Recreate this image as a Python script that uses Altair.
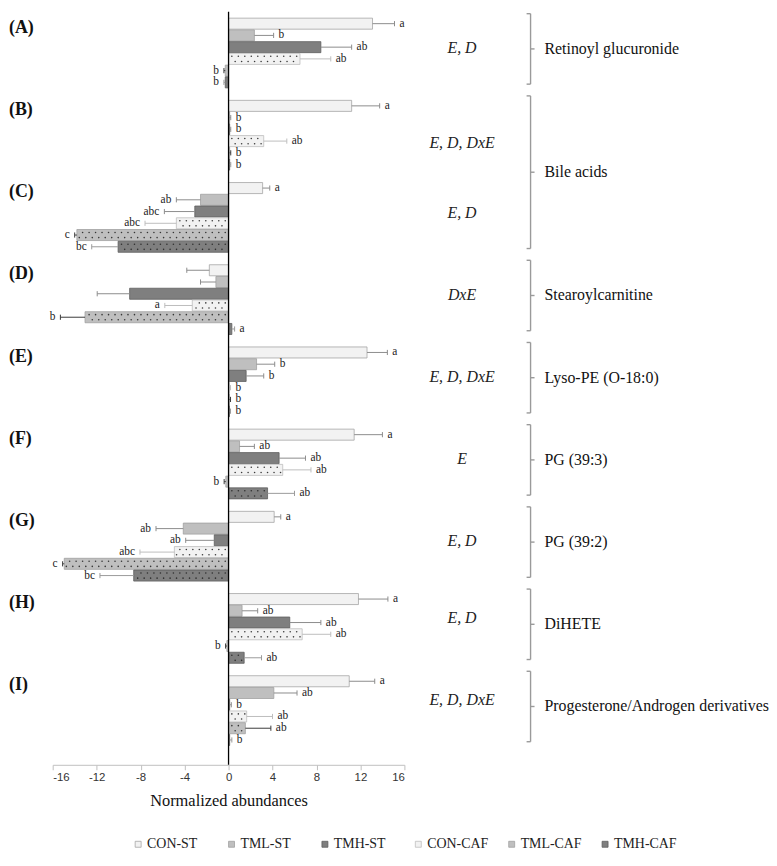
import altair as alt
import pandas as pd

panels = ["(A)", "(B)", "(C)", "(D)", "(E)", "(F)", "(G)", "(H)", "(I)"]
series = ["CON-ST", "TML-ST", "TMH-ST", "CON-CAF", "TML-CAF", "TMH-CAF"]
fills = ["#f2f2f2", "#bfbfbf", "#7f7f7f", "#f2f2f2", "#bfbfbf", "#7f7f7f"]
strokes = ["#a6a6a6", "#a0a0a0", "#5f5f5f", "#bdbdbd", "#a0a0a0", "#5f5f5f"]
err_colors = ["#8c8c8c", "#8c8c8c", "#8c8c8c", "#bdbdbd", "#3a3a3a", "#9a9a9a"]
patterned = [False, False, False, True, True, True]

means = {
    "CON-ST":  [13.1, 11.2, 3.1, -1.75, 12.6, 11.43, 4.15, 11.82, 10.98],
    "TML-ST":  [2.35, 0.1, -2.55, -1.15, 2.55, 1.0, -4.12, 1.23, 4.12],
    "TMH-ST":  [8.4, 0.1, -3.07, -9.0, 1.6, 4.6, -1.3, 5.57, 0.1],
    "CON-CAF": [6.5, 3.2, -4.75, -3.3, 0.08, 4.93, -4.93, 6.7, 1.65],
    "TML-CAF": [-0.3, 0.1, -13.8, -13.06, 0.08, -0.25, -14.95, -0.15, 1.53],
    "TMH-CAF": [-0.3, 0.1, -10.05, 0.3, 0.08, 3.55, -8.63, 1.42, 0.1],
}
ses = {
    "CON-ST":  [2.0, 2.55, 0.65, 2.05, 1.85, 2.57, 0.6, 2.68, 2.32],
    "TML-ST":  [1.75, 0.1, 2.2, 1.4, 1.65, 1.35, 2.48, 1.42, 2.11],
    "TMH-ST":  [2.8, 0.1, 2.77, 2.95, 1.6, 2.4, 2.6, 2.83, 0.15],
    "CON-CAF": [2.8, 2.1, 2.85, 2.5, 0.1, 2.57, 3.13, 2.6, 2.35],
    "TML-CAF": [0.12, 0.1, 0.2, 2.24, 0.1, 0.15, 0.15, 0.12, 2.32],
    "TMH-CAF": [0.12, 0.1, 2.4, 0.25, 0.1, 2.45, 3.07, 1.58, 0.2],
}
letters = {
    "CON-ST":  ["a", "a", "a", "", "a", "a", "a", "a", "a"],
    "TML-ST":  ["b", "b", "ab", "", "b", "ab", "ab", "ab", "ab"],
    "TMH-ST":  ["ab", "b", "abc", "", "b", "ab", "ab", "ab", "b"],
    "CON-CAF": ["ab", "ab", "abc", "a", "b", "ab", "abc", "ab", "ab"],
    "TML-CAF": ["b", "b", "c", "b", "b", "b", "c", "b", "ab"],
    "TMH-CAF": ["b", "b", "bc", "a", "b", "ab", "bc", "ab", "b"],
}
significance = ["E, D", "E, D, DxE", "E, D", "DxE", "E, D, DxE", "E", "E, D", "E, D", "E, D, DxE"]
sig_nudge = [0, 1.1, 0, 0, 0, 0, 0, -0.5, -0.5]
metabolite_names = ["Retinoyl glucuronide", "Bile acids", "Stearoylcarnitine", "Lyso-PE (O-18:0)",
                    "PG (39:3)", "PG (39:2)", "DiHETE", "Progesterone/Androgen derivatives"]
metabolite_first = [0, 1, 3, 4, 5, 6, 7, 8]
metabolite_last = [0, 2, 3, 4, 5, 6, 7, 8]

SERIF = "Times New Roman, Liberation Serif, serif"
SANS = "Liberation Sans, Arial, sans-serif"
SLOTS = 7  # 6 bars + 1 gap per panel

rows = []
dots = []
for k, p in enumerate(panels):
    for j, s in enumerate(series):
        c = SLOTS * k + j + 1.5
        v = means[s][k]
        e = ses[s][k]
        sgn = 1 if v >= 0 else -1
        rows.append(dict(panel=p, series=s, value=v, zero=0.0, y0=c - 0.47, y1=c + 0.47,
                         cy=c, cy0=c - 0.22, cy1=c + 0.22, end=v + sgn * e,
                         ecolor=err_colors[j], letter=letters[s][k], sgn=sgn))
        if patterned[j] and abs(v) >= 0.6:
            step = 0.59
            for off, start in [(-0.22, 0.3), (0.22, 0.6)]:
                xx = start
                while xx < abs(v) - 0.15:
                    dots.append(dict(x=sgn * xx, y=c + off))
                    xx += step

df = pd.DataFrame(rows)
dots_df = pd.DataFrame(dots)

xscale = alt.Scale(domain=[-16, 16], nice=False, zero=False)
yscale = alt.Scale(domain=[0.485, 64.615], nice=False, zero=False, reverse=True)
xaxis = alt.Axis(values=[-16, -12, -8, -4, 0, 4, 8, 12, 16], labelExpr="'' + datum.value",
                 labelFont=SANS, labelFontSize=11.5, labelColor="#333333",
                 domainColor="#bfbfbf", tickColor="#bfbfbf", tickSize=5, grid=False,
                 labelPadding=2, title="Normalized abundances", titleFont=SERIF,
                 titleFontSize=16.5, titleFontWeight="normal", titleColor="#111", titlePadding=9)


def X(f):
    return alt.X(f, scale=xscale, axis=xaxis)


def Y(f):
    return alt.Y(f, scale=yscale, axis=None)


bars = alt.Chart(df).mark_bar(strokeWidth=0.8).encode(
    x=X("value:Q"), x2="zero:Q", y=Y("y0:Q"), y2="y1:Q",
    color=alt.Color("series:N", scale=alt.Scale(domain=series, range=fills),
                    legend=alt.Legend(orient="none", legendX=79, legendY=831, direction="horizontal",
                                      columns=6, gridAlign="all", title=None, symbolType="square",
                                      symbolSize=36, symbolStrokeColor="#8c8c8c", symbolStrokeWidth=0.8,
                                      labelFont=SERIF, labelFontSize=14, labelColor="#222",
                                      labelOffset=2, columnPadding=14, padding=0)),
    stroke=alt.Stroke("series:N", scale=alt.Scale(domain=series, range=strokes), legend=None),
)

dot_layer = alt.Chart(dots_df).mark_circle(size=2.5, opacity=0.9, color="#262626").encode(
    x=X("x:Q"), y=Y("y:Q"))

err = alt.Chart(df).mark_rule(strokeWidth=1).encode(
    x=X("value:Q"), x2="end:Q", y=Y("cy:Q"), color=alt.Color("ecolor:N", scale=None, legend=None))
caps = alt.Chart(df).mark_rule(strokeWidth=1).encode(
    x=X("end:Q"), y=Y("cy0:Q"), y2="cy1:Q", color=alt.Color("ecolor:N", scale=None, legend=None))

zero_line = alt.Chart(pd.DataFrame({"z": [0.0]})).mark_rule(color="#000", strokeWidth=1.3).encode(
    x=X("z:Q"))

lab = df[df.letter != ""]
let_pos = alt.Chart(lab[lab.sgn > 0]).mark_text(align="left", baseline="middle", dx=5,
                                               font=SERIF, fontSize=11.5, color="#222").encode(
    x=X("end:Q"), y=Y("cy:Q"), text="letter:N")
let_neg = alt.Chart(lab[lab.sgn < 0]).mark_text(align="right", baseline="middle", dx=-5,
                                               font=SERIF, fontSize=11.5, color="#222").encode(
    x=X("end:Q"), y=Y("cy:Q"), text="letter:N")

pan_df = pd.DataFrame({"panel": panels,
                       "y": [SLOTS * k + 1.85 for k in range(len(panels))],
                       "sig": significance,
                       "ys": [SLOTS * k + 4.0 - 0.4 + sig_nudge[k] for k in range(len(panels))]})
pan_labels = alt.Chart(pan_df).mark_text(align="left", baseline="middle", font=SERIF,
                                         fontSize=18, fontWeight="bold", color="#111").encode(
    x=alt.value(-44), y=Y("y:Q"), text="panel:N")
sig_labels = alt.Chart(pan_df).mark_text(align="center", baseline="middle", font=SERIF,
                                         fontSize=16, fontStyle="italic", color="#222").encode(
    x=alt.value(412), y=Y("ys:Q"), text="sig:N")

br_df = pd.DataFrame({"name": metabolite_names,
                      "top": [SLOTS * a + 1 - 0.35 for a in metabolite_first],
                      "bot": [SLOTS * b + 7 - 0.35 for b in metabolite_last]})
br_df["mid"] = (br_df["top"] + br_df["bot"]) / 2
BX = 481
br_v = alt.Chart(br_df).mark_rule(color="#9a9a9a", strokeWidth=1.4).encode(
    x=alt.value(BX), y=Y("top:Q"), y2="bot:Q")
br_t = alt.Chart(br_df).mark_rule(color="#9a9a9a", strokeWidth=1.4).encode(
    x=alt.value(BX - 4), x2=alt.value(BX), y=Y("top:Q"))
br_b = alt.Chart(br_df).mark_rule(color="#9a9a9a", strokeWidth=1.4).encode(
    x=alt.value(BX - 4), x2=alt.value(BX), y=Y("bot:Q"))
br_m = alt.Chart(br_df).mark_rule(color="#9a9a9a", strokeWidth=1.4).encode(
    x=alt.value(BX), x2=alt.value(BX + 4), y=Y("mid:Q"))
br_lab = alt.Chart(br_df).mark_text(align="left", baseline="middle", font=SERIF,
                                    fontSize=16, color="#111").encode(
    x=alt.value(495), y=Y("mid:Q"), text="name:N")

chart = alt.layer(bars, dot_layer, err, caps, zero_line, let_pos, let_neg, pan_labels, sig_labels,
                  br_v, br_t, br_b, br_m, br_lab).properties(
    width=354, height=758, autosize=alt.AutoSizeParams(type="none"),
    padding={"left": 45, "top": 1, "right": 367, "bottom": 85},
).configure_view(stroke=None)

chart.save("out.html", embed_options={"renderer": "svg", "actions": False})
